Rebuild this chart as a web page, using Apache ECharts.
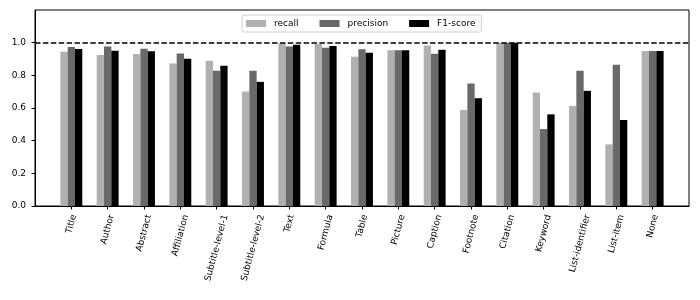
<!DOCTYPE html>
<html><head><meta charset="utf-8">
<script src="https://cdn.jsdelivr.net/npm/echarts@6/dist/echarts.min.js"></script>
<style>html,body{margin:0;padding:0;background:#fff}#c{width:700px;height:300px}</style>
</head><body><div id="c"></div>
<script>
const categories = ["Title","Author","Abstract","Affiliation","Subtitle-level-1","Subtitle-level-2","Text","Formula","Table","Picture","Caption","Footnote","Citation","Keyword","List-identifier","List-item","None"];
const recall    = [0.945,0.924,0.930,0.873,0.889,0.701,0.996,0.992,0.914,0.953,0.982,0.588,0.998,0.695,0.613,0.377,0.949];
const precision = [0.973,0.977,0.963,0.934,0.828,0.828,0.977,0.969,0.959,0.953,0.932,0.750,1.000,0.471,0.828,0.865,0.949];
const f1score   = [0.961,0.951,0.947,0.902,0.859,0.760,0.988,0.980,0.939,0.953,0.957,0.660,1.000,0.561,0.705,0.527,0.949];
const yTicks = [0,0.2,0.4,0.6,0.8,1.0];
const refLine = 1.0;

(function(){
const idx = categories.map((_, i) => i);
const font = 'DejaVu Sans';
const FS = 9;
const chart = echarts.init(document.getElementById('c'), null, {renderer:'canvas'});
function mk(name, vals, color, extra) {
  return Object.assign({
    name, type:'bar', barWidth:7.3, barGap:'0%',
    itemStyle:{color},
    data: vals.map((v,i)=>[i,v]),
    animation:false
  }, extra||{});
}
chart.setOption({
  animation:false,
  textStyle:{fontFamily:font},
  grid:{left:35,right:11,top:10,bottom:94,show:true,borderColor:'#000',borderWidth:1,backgroundColor:'transparent'},
  legend:{
    left:242, top:15, orient:'horizontal',
    data:['recall','precision','F1-score'],
    icon:'rect', itemWidth:20, itemHeight:7, itemGap:21,
    padding:[4,6,4,4],
    borderColor:'#d0d0d0', borderWidth:1, borderRadius:2, backgroundColor:'#fff',
    textStyle:{fontSize:FS, color:'#000', fontFamily:font, padding:[0,0,0,3]}
  },
  xAxis:{
    type:'value', min:-1, max:17, interval:1,
    axisLine:{show:true, onZero:false, lineStyle:{color:'#000',width:1}},
    splitLine:{show:false},
    axisTick:{show:true, length:3.5, inside:false, customValues:idx, lineStyle:{color:'#000'}},
    axisLabel:{show:false}
  },
  yAxis:{
    type:'value', min:0, max:1.2, interval:0.2,
    axisLine:{show:true, onZero:false, lineStyle:{color:'#000',width:1}},
    splitLine:{show:false},
    axisTick:{show:true, length:3.5, customValues:yTicks, lineStyle:{color:'#000'}},
    axisLabel:{customValues:yTicks, fontSize:FS, color:'#000', margin:9, fontFamily:font,
      formatter:v=>v.toFixed(1)}
  },
  series:[
    mk('recall', recall, '#b0b0b0', {
      markLine:{silent:true, symbol:'none', label:{show:false},
        lineStyle:{color:'#000', type:[5.5,2.4], width:1.5},
        data:[{yAxis:refLine}]}
    }),
    mk('precision', precision, '#696969'),
    mk('F1-score', f1score, '#000000')
  ]
});

// Rotated category labels, centred under each tick like matplotlib (rotation=75, ha='center')
const ctx = document.createElement('canvas').getContext('2d');
ctx.font = FS + 'px "' + font + '"';
const ang = 75 * Math.PI / 180;
const h = FS * 1.15;
const axisY = chart.convertToPixel({yAxisIndex:0}, 0);
const labelTop = axisY + 7.5;
const labels = categories.map((c, i) => {
  const x = chart.convertToPixel({xAxisIndex:0}, i);
  const L = ctx.measureText(c).width;
  const bh = L * Math.sin(ang) + h * Math.cos(ang);
  return {type:'text', x: x, y: labelTop + bh / 2, rotation: ang,
    style:{text:c, fontSize:FS, fontFamily:font, fill:'#000', align:'center', verticalAlign:'middle'}};
});
chart.setOption({graphic: labels});
})();
</script></body></html>
